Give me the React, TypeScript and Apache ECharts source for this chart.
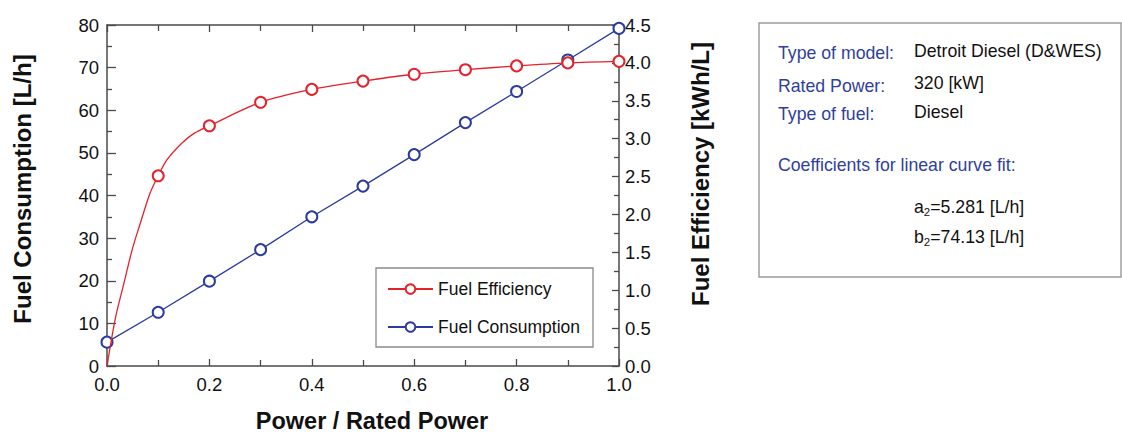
import React, { useEffect, useRef } from "react";
import * as echarts from "echarts";

// ---- data ----
const powerRatio = [0, 0.1, 0.2, 0.3, 0.4, 0.5, 0.6, 0.7, 0.8, 0.9, 1.0];
const fuelConsumption = [5.6, 12.6, 19.9, 27.3, 35.0, 42.2, 49.6, 57.1, 64.4, 71.8, 79.2];
const efficiencyMarkerX = [0.1, 0.2, 0.3, 0.4, 0.5, 0.6, 0.7, 0.8, 0.9, 1.0];
const efficiencyMarkerY = [2.51, 3.17, 3.48, 3.65, 3.76, 3.85, 3.91, 3.96, 4.0, 4.02];
// extra curve points (no marker)
const efficiencyCurveX = [0, 0.017, 0.033, 0.049, 0.063, 0.084, 0.117, 0.146, 0.17];
const efficiencyCurveY = [0, 0.65, 1.09, 1.53, 1.84, 2.28, 2.72, 2.94, 3.07];

const infoLabels = ["Type of model:", "Rated Power:", "Type of fuel:"];
const infoValues = ["Detroit Diesel (D&WES)", "320 [kW]", "Diesel"];
const coefTitle = "Coefficients for linear curve fit:";
const coefNames = ["a", "b"];
const coefValues = ["=5.281 [L/h]", "=74.13 [L/h]"];

const FONT = "'Liberation Sans', Arial, Helvetica, sans-serif";
const RED = "#e4222b";
const BLUE = "#2c3c9e";
const AXIS = "#4a4a4a";
const TEXT_BLUE = "#2f3f9c";

export default function App() {
  const ref = useRef<HTMLDivElement>(null);

  useEffect(() => {
    if (!ref.current) return;
    const chart = echarts.init(ref.current, undefined, { renderer: "svg" });

    const effPoints: any[] = [];
    efficiencyCurveX.forEach((x, i) =>
      effPoints.push({ value: [x, efficiencyCurveY[i]], symbol: "none" })
    );
    efficiencyMarkerX.forEach((x, i) => effPoints.push({ value: [x, efficiencyMarkerY[i]] }));
    effPoints.sort((a, b) => a.value[0] - b.value[0]);

    const consPoints = powerRatio.map((x, i) => [x, fuelConsumption[i]]);

    const xBase = {
      type: "value",
      min: 0,
      max: 1,
      interval: 0.2,
      axisLine: { show: true, onZero: false, lineStyle: { color: AXIS, width: 1.5 } },
      axisTick: { show: true, inside: true, length: 7, lineStyle: { color: AXIS, width: 1.3 } },
      minorTick: { show: true, splitNumber: 2, length: 6, lineStyle: { color: AXIS, width: 1.3 } },
      splitLine: { show: false },
    };

    const infoFont = `17.7px ${FONT}`;
    const infoGraphics: any[] = [
      {
        type: "rect",
        shape: { x: 759, y: 23, width: 362, height: 254 },
        style: { fill: "none", stroke: "#9a9a9a", lineWidth: 1.4 },
      },
    ];
    const labelYs = [53, 86, 114];
    const valueYs = [51, 83, 112];
    infoLabels.forEach((t, i) => {
      infoGraphics.push({
        type: "text",
        x: 778,
        y: labelYs[i],
        style: { text: t, fill: TEXT_BLUE, font: infoFont, verticalAlign: "middle", align: "left" },
      });
      infoGraphics.push({
        type: "text",
        x: 914,
        y: valueYs[i],
        style: { text: infoValues[i], fill: "#111", font: infoFont, verticalAlign: "middle", align: "left" },
      });
    });
    infoGraphics.push({
      type: "text",
      x: 778,
      y: 165,
      style: { text: coefTitle, fill: TEXT_BLUE, font: infoFont, verticalAlign: "middle", align: "left" },
    });
    const coefYs = [207, 237];
    coefNames.forEach((n, i) => {
      infoGraphics.push({
        type: "text",
        x: 914,
        y: coefYs[i],
        style: {
          text: `{m|${n}}{s|2}{m|${coefValues[i]}}`,
          verticalAlign: "middle",
          align: "left",
          rich: {
            m: { fill: "#111", fontSize: 17.7, fontFamily: FONT },
            s: { fill: "#111", fontSize: 11.5, fontFamily: FONT, padding: [9, 0, 0, 0] },
          },
        },
      });
    });

    const option: any = {
      animation: false,
      backgroundColor: "#ffffff",
      grid: { left: 107, top: 25, right: 503, bottom: 69, containLabel: false },
      xAxis: [
        {
          ...xBase,
          position: "bottom",
          axisLabel: {
            show: true,
            color: "#111",
            fontSize: 18.5,
            fontFamily: FONT,
            margin: 9,
            formatter: (v: number) => v.toFixed(1),
          },
        },
        {
          ...xBase,
          position: "top",
          axisLabel: { show: false },
        },
      ],
      yAxis: [
        {
          type: "value",
          position: "left",
          min: 0,
          max: 80,
          interval: 10,
          axisLine: { show: true, onZero: false, lineStyle: { color: AXIS, width: 1.5 } },
          axisTick: { show: true, inside: true, length: 9, lineStyle: { color: AXIS, width: 1.3 } },
          minorTick: { show: true, splitNumber: 2, length: 5, lineStyle: { color: AXIS, width: 1.3 } },
          splitLine: { show: false },
          axisLabel: { color: "#111", fontSize: 18.5, fontFamily: FONT, margin: 8 },
        },
        {
          type: "value",
          position: "right",
          min: 0,
          max: 4.5,
          interval: 0.5,
          axisLine: { show: true, onZero: false, lineStyle: { color: AXIS, width: 1.5 } },
          axisTick: { show: true, inside: true, length: 7, lineStyle: { color: AXIS, width: 1.3 } },
          minorTick: { show: true, splitNumber: 2, length: 5, lineStyle: { color: AXIS, width: 1.3 } },
          splitLine: { show: false },
          axisLabel: {
            color: "#111",
            fontSize: 18.5,
            fontFamily: FONT,
            margin: 6,
            formatter: (v: number) => v.toFixed(1),
          },
        },
      ],
      legend: {
        orient: "vertical",
        left: 376,
        top: 268,
        width: 215,
        padding: [12, 13, 11, 11],
        itemWidth: 45,
        itemHeight: 12,
        itemGap: 20,
        borderColor: "#8a8a8a",
        borderWidth: 1.3,
        backgroundColor: "#ffffff",
        textStyle: { color: "#111", fontSize: 17.5, fontFamily: FONT },
        data: ["Fuel Efficiency", "Fuel Consumption"],
      },
      series: [
        {
          name: "Fuel Efficiency",
          type: "line",
          xAxisIndex: 0,
          yAxisIndex: 1,
          data: effPoints,
          smooth: 0.3,
          symbol: "emptyCircle",
          symbolSize: 11,
          showAllSymbol: true,
          itemStyle: { color: RED, borderWidth: 1.3 },
          lineStyle: { color: RED, width: 1.3 },
          clip: false,
          z: 3,
        },
        {
          name: "Fuel Consumption",
          type: "line",
          xAxisIndex: 0,
          yAxisIndex: 0,
          data: consPoints,
          symbol: "emptyCircle",
          symbolSize: 11,
          showAllSymbol: true,
          itemStyle: { color: BLUE, borderWidth: 1.3 },
          lineStyle: { color: BLUE, width: 1.3 },
          clip: false,
          z: 2,
        },
      ],
      graphic: [
        {
          type: "text",
          x: 22,
          y: 189,
          rotation: Math.PI / 2,
          style: {
            text: "Fuel Consumption [L/h]",
            fill: "#111",
            font: `bold 24px ${FONT}`,
            align: "center",
            verticalAlign: "middle",
          },
        },
        {
          type: "text",
          x: 700,
          y: 174,
          rotation: Math.PI / 2,
          style: {
            text: "Fuel Efficiency [kWh/L]",
            fill: "#111",
            font: `bold 24px ${FONT}`,
            align: "center",
            verticalAlign: "middle",
          },
        },
        {
          type: "text",
          x: 372,
          y: 421,
          style: {
            text: "Power / Rated Power",
            fill: "#111",
            font: `bold 23.5px ${FONT}`,
            align: "center",
            verticalAlign: "middle",
          },
        },
        ...infoGraphics,
      ],
    };

    chart.setOption(option);
    return () => chart.dispose();
  }, []);

  return (
    <div
      ref={ref}
      style={{ position: "fixed", left: 0, top: 0, width: 1122, height: 435, background: "#fff" }}
    />
  );
}
